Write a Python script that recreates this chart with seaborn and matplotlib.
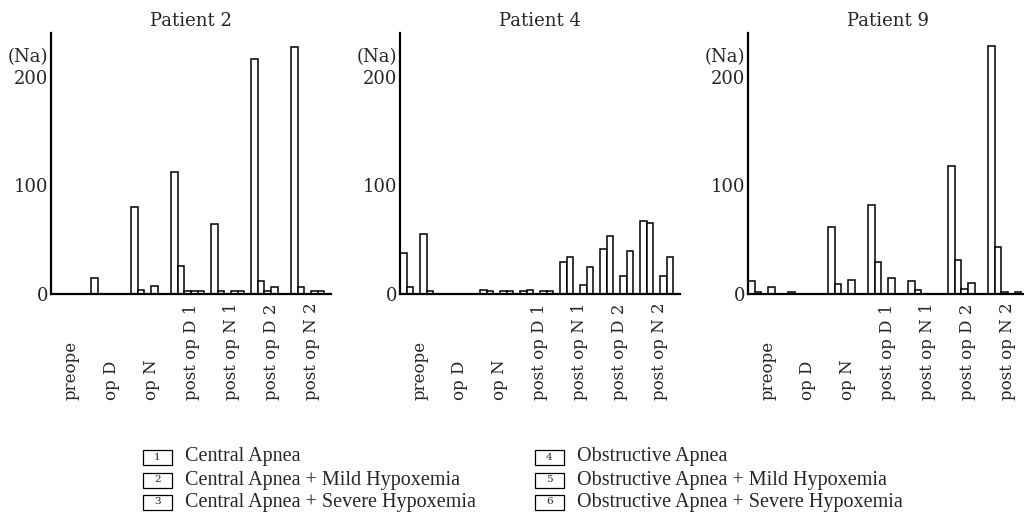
import seaborn as sns
import matplotlib.pyplot as plt
import matplotlib.patches as mpatches
import pandas as pd

periods = ["preope", "op D", "op N", "post op D 1", "post op N 1", "post op D 2", "post op N 2"]
types = ["1", "2", "3", "4", "5", "6"]
type_names = ["Central Apnea",
              "Central Apnea + Mild Hypoxemia",
              "Central Apnea + Severe Hypoxemia",
              "Obstructive Apnea",
              "Obstructive Apnea + Mild Hypoxemia",
              "Obstructive Apnea + Severe Hypoxemia"]

# counts per period, one list per apnea type (1..6)
patient2 = [[0, 15, 80, 112, 64, 216, 227],
            [0, 0, 4, 26, 3, 12, 6],
            [0, 0, 0, 3, 0, 3, 0],
            [0, 0, 7, 3, 3, 6, 3],
            [0, 0, 0, 3, 3, 0, 3],
            [0, 0, 0, 0, 0, 0, 0]]
patient4 = [[38, 0, 4, 3, 29, 41, 67],
            [6, 0, 3, 4, 34, 53, 65],
            [0, 0, 0, 0, 0, 0, 0],
            [55, 0, 3, 3, 8, 17, 17],
            [3, 0, 3, 3, 25, 40, 34],
            [0, 0, 0, 0, 0, 0, 0]]
patient9 = [[12, 2, 62, 82, 12, 118, 228],
            [2, 0, 9, 29, 4, 31, 43],
            [0, 0, 0, 0, 0, 5, 2],
            [6, 0, 13, 15, 0, 10, 0],
            [0, 0, 0, 0, 0, 0, 2],
            [0, 0, 0, 0, 0, 0, 0]]

titles = ["Patient 2", "Patient 4", "Patient 9"]
patients = [patient2, patient4, patient9]


def to_frame(counts):
    rows = []
    for t, vals in zip(types, counts):
        for p, v in zip(periods, vals):
            rows.append({"period": p, "type": t, "count": v})
    return pd.DataFrame(rows)


sns.set_style("white")
plt.rcParams['font.family'] = ['DejaVu Serif']

W, H = 1024, 513
fig = plt.figure(figsize=(W / 100, H / 100), dpi=100)

lefts = [51, 400, 748]
for left, title, counts in zip(lefts, titles, patients):
    ax = fig.add_axes([left / W, (H - 294) / H, 280 / W, 261 / H])
    sns.barplot(data=to_frame(counts), x="period", y="count", hue="type",
                order=periods, hue_order=types, palette=["white"] * 6,
                edgecolor="black", linewidth=1.1, width=1.0, errorbar=None,
                legend=False, ax=ax)
    ax.set_xlim(-0.5, 6.5)
    ax.set_ylim(0, 240)
    ax.set_xlabel("")
    ax.set_ylabel("")
    ax.set_yticks([0, 100, 200])
    ax.set_yticks([50, 150], minor=True)
    ax.tick_params(axis="y", which="both", direction="in", length=5, width=1.2,
                   labelsize=13, pad=2)
    ax.tick_params(axis="x", length=0, pad=76, labelsize=12)
    plt.setp(ax.get_xticklabels(), rotation=90, va="bottom", ha="center")
    for s in ["top", "right"]:
        ax.spines[s].set_visible(False)
    for s in ["left", "bottom"]:
        ax.spines[s].set_linewidth(1.6)
        ax.spines[s].set_color("black")
    ax.set_title(title, fontsize=13, pad=5)
    ax.text(-0.012, 218, "(Na)", transform=ax.get_yaxis_transform(),
            ha="right", va="center", fontsize=13)

# numbered legend boxes below the panels
rows_y = [457, 480, 502]
cols_x = [143, 535]
for i, name in enumerate(type_names):
    bx = cols_x[i // 3]
    by = rows_y[i % 3]
    fig.add_artist(mpatches.Rectangle((bx / W, (H - by - 7.5) / H), 29 / W, 15 / H,
                                      transform=fig.transFigure, fill=False,
                                      edgecolor="black", linewidth=0.9))
    fig.text((bx + 14.5) / W, (H - by) / H, types[i], ha="center", va="center",
             fontsize=7.5)
    fig.text((bx + 42) / W, (H - by) / H, name, ha="left", va="center",
             fontsize=14.5, family=["Liberation Serif"])

fig.savefig("out.png", dpi=100, facecolor="white")
